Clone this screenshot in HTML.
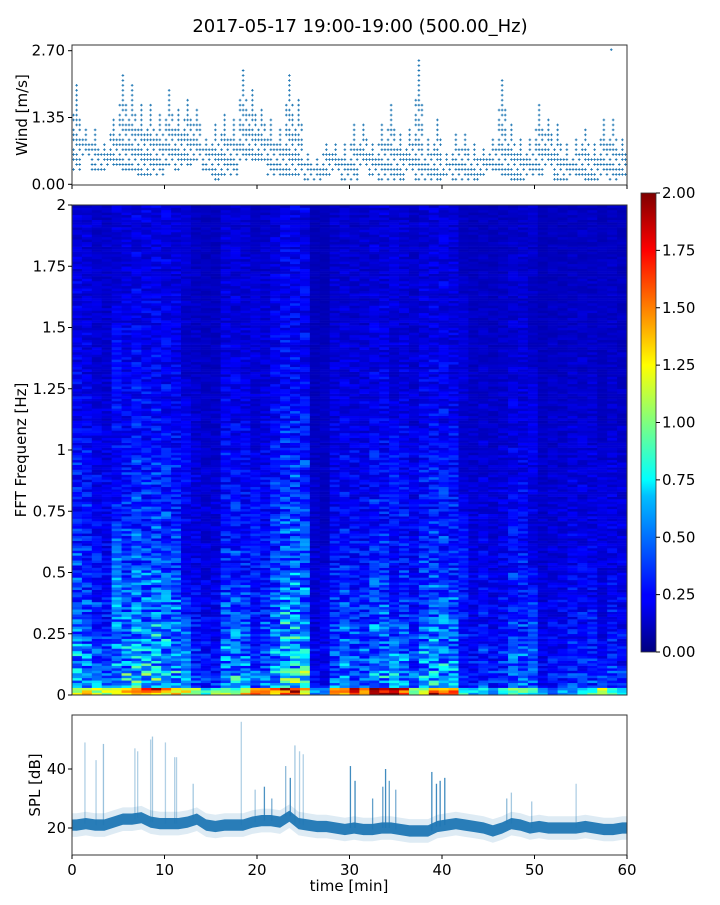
<!DOCTYPE html>
<html><head><meta charset="utf-8">
<style>
html,body{margin:0;padding:0;background:#fff}
svg text{font-family:"DejaVu Sans","Liberation Sans",sans-serif;fill:#000}
</style></head>
<body>
<svg id="fig" width="720" height="900" viewBox="0 0 720 900" xmlns="http://www.w3.org/2000/svg">
<defs>
<linearGradient id="jet" x1="0" y1="1" x2="0" y2="0">
<stop offset="0" stop-color="#00007f"/><stop offset="0.11" stop-color="#0000ff"/><stop offset="0.125" stop-color="#0000ff"/>
<stop offset="0.34" stop-color="#00bfff"/><stop offset="0.375" stop-color="#00ffff"/><stop offset="0.5" stop-color="#7fff7f"/>
<stop offset="0.625" stop-color="#ffff00"/><stop offset="0.66" stop-color="#ffdb00"/><stop offset="0.875" stop-color="#ff0000"/><stop offset="1" stop-color="#7f0000"/>
</linearGradient>
<clipPath id="clipSpl"><rect x="72" y="715" width="555" height="140"/></clipPath>
</defs>
<text x="360" y="32" text-anchor="middle" font-size="18">2017-05-17 19:00-19:00 (500.00_Hz)</text>
<g id="wind"></g>
<g id="spec"></g>
<g id="cbar"></g>
<g id="spl"></g>
</svg>
<script>
// ---- data ----
const windLo=[0.3,0.55,0.3,0.3,0.35,0.3,0.3,0.2,0.2,0.2,0.4,0.3,0.4,0.5,0.3,0.1,0.2,0.2,0.5,0.5,0.5,0.2,0.2,0.2,0.2,0.1,0.1,0.2,0.3,0.1,0.1,0.35,0.2,0.1,0.1,0.1,0.3,0.1,0.1,0.1,0.2,0.1,0.1,0.1,0.2,0.3,0.2,0.1,0.1,0.2,0.2,0.4,0.1,0.1,0.2,0.1,0.1,0.2,0.1,0.2];
const windHi=[2.0,1.1,1.1,0.75,1.3,2.2,2.0,1.6,1.6,1.35,1.9,1.5,1.7,1.5,0.9,1.2,1.4,1.3,2.3,1.9,1.5,1.3,1.1,2.2,1.7,0.6,0.45,0.75,0.75,0.75,1.2,1.2,0.75,1.2,1.6,1.0,1.1,2.5,0.9,1.3,0.55,1.0,1.0,0.75,0.7,0.9,2.1,1.2,0.9,0.9,1.6,1.3,1.2,0.75,0.9,1.1,0.75,1.3,1.3,0.9];
const windOutT=[58.3];
const windOutV=[2.72];
const windTicks=["0.00","1.35","2.70"];
const colLevel=[0.5,0.45,0.35,0.3,0.55,0.5,0.6,0.55,0.6,0.55,0.5,0.35,0.25,0.2,0.2,0.45,0.45,0.4,0.35,0.35,0.5,0.65,0.65,0.6,0.15,0.15,0.35,0.4,0.35,0.35,0.45,0.45,0.4,0.4,0.3,0.45,0.5,0.5,0.45,0.3,0.2,0.25,0.2,0.25,0.35,0.35,0.3,0.15,0.2,0.2,0.25,0.25,0.25,0.2,0.25,0.2];
const bottomBand=[1.4,1.4,1.2,1.3,1.5,1.6,1.8,1.6,1.7,1.5,1.4,1.3,1.2,0.8,1.0,1.2,1.1,1.4,1.5,1.6,1.5,1.9,1.8,1.5,0.6,0.6,1.7,1.8,1.9,1.8,2.0,2.0,2.0,1.7,1.0,1.3,1.8,1.8,1.6,0.9,0.7,0.8,0.6,0.9,1.1,1.0,0.9,0.6,0.5,0.6,0.6,0.7,1.0,1.2,0.9,0.7];
const freqProfile=[1.8,1.5,1.3,1.15,1.0,0.9,0.8,0.75,0.7,0.65,0.58,0.52,0.48,0.45,0.42,0.4,0.38,0.36,0.34,0.33];
const texture=[1.0,0.5,1.5,0.8,1.2,0.4,1.7,0.7,1.3,0.95,0.55,1.4,0.85,1.6,0.45,1.1,0.75,1.25,0.6,1.5,1.0,0.8,1.35,0.65,1.15,0.5,1.8,0.9,1.05,0.6,1.3,0.7,1.0,0.45,1.2,0.85,1.45];
const freqTicks=["0","0.25","0.5","0.75","1","1.25","1.5","1.75","2"];
const cbarTicks=["0.00","0.25","0.50","0.75","1.00","1.25","1.50","1.75","2.00"];
const splBase=[21,21.5,21,21,22,23,23,23.5,22,21.5,21.5,21.5,22,23,21,20.5,21,21,21,22,22.5,22.5,22,24,21.5,21,20.5,20.5,20,19.5,20,19.5,19.5,20,20,19.5,19,19,19,20.5,21,21.5,21,20.5,20,19,20,21.5,21,20,20.5,20,20,20,20,20.5,20,19.5,19.5,20];
const spikeT=[1.4,2.6,3.4,6.8,7.1,8.5,8.7,10.1,11.1,11.3,13.1,18.3,19.8,20.8,21.6,23.1,23.6,24.1,24.6,25.0,30.1,30.6,32.5,33.6,33.9,34.3,35.0,38.9,39.4,39.8,40.3,47.0,47.5,49.7,54.5];
const spikeV=[49,43,48.5,47,46,50,51,49,44,44,35,56,33,34,30,41,37,48,46,45,41,36,30,34,40,36,33,39,35,36,37,30,32,29,35];
const spikeA=[0.35,0.35,0.45,0.35,0.35,0.35,0.4,0.35,0.35,0.35,0.4,0.35,0.4,0.8,0.6,0.5,0.85,0.4,0.35,0.35,0.85,0.85,0.7,0.7,0.85,0.7,0.6,0.85,0.85,0.85,0.85,0.5,0.4,0.4,0.35];
const timeTicks=[0,10,20,30,40,50,60];
const splTicks=[20,40];

// ---- helpers ----
const NS="http://www.w3.org/2000/svg";
function mk(tag,attrs,parent){const e=document.createElementNS(NS,tag);for(const k in attrs)e.setAttribute(k,attrs[k]);parent.appendChild(e);return e;}
const X0=72,X1=627;
const xT=t=>X0+(X1-X0)*t/60;
function jet(v){let t=Math.max(0,Math.min(1,v/2));
 const c=x=>Math.round(255*Math.max(0,Math.min(1,x)));
 return `rgb(${c(1.5-Math.abs(4*t-3))},${c(1.5-Math.abs(4*t-2))},${c(1.5-Math.abs(4*t-1))})`;}

// ---- wind panel ----
const W=document.getElementById('wind');
const wTop=45,wBot=185;
const yW=v=>184.3-v*(184.3-50.7)/2.7;
for(let m=0;m<60;m++){
 const lo=windLo[m],hi=windHi[m];
 const n0=Math.round(lo*10),n1=Math.round(hi*10);
 const span=n1-n0;
 for(let s=0;s<3;s++){
  const t=m+(s+0.5)/3;
  for(let k=n0;k<=n1;k++){
   const upper=(k-n0)>0.7*span;
   if(upper && s!==1) continue;
   if(!upper && (k+s+m)%4===0) continue;
   const x=xT(t),y=yW(k/10);
   const p=mk('path',{d:`M${x-1.3},${y}h2.6M${x},${y-1.3}v2.6`,stroke:'#1f77b4','stroke-width':0.9},W);
   
   
  }
 }
}
windOutT.forEach((t,i)=>{const x=xT(t),y=yW(windOutV[i]);
 const p=mk('path',{d:`M${x-1.3},${y}h2.6M${x},${y-1.3}v2.6`,stroke:'#1f77b4','stroke-width':0.9},W);
 
 });
{const r=mk('rect',{x:X0,y:wTop,width:X1-X0,height:wBot-wTop,fill:'none',stroke:'#333','stroke-width':1},W);
 
 }
windTicks.forEach(s=>{const y=yW(parseFloat(s));
 mk('line',{x1:X0-4,x2:X0,y1:y,y2:y,stroke:'#000'},W);
 const t=mk('text',{x:X0-7,y:y+5,'text-anchor':'end','font-size':15},W);t.textContent=s;
 
 });
timeTicks.forEach(v=>{const x=xT(v);mk('line',{x1:x,x2:x,y1:wBot,y2:wBot+4,stroke:'#000'},W);});
{const t=mk('text',{transform:'translate(27,115) rotate(-90)','text-anchor':'middle','font-size':15},W);t.textContent='Wind [m/s]';
 
 }

// ---- spectrogram ----
const S=document.getElementById('spec');
const sTop=205,sBot=695;
const yF=f=>sBot-(sBot-sTop)*f/2;
const nRows=200, nCols=colLevel.length;
const cw=(X1-X0)/nCols, rh=(sBot-sTop)/nRows;
for(let c=0;c<nCols;c++){
 for(let r=0;r<nRows;r++){
  const f=(r+0.5)*2/nRows;
  const jt=texture[(r*5+c*11+(r*c)%7)%texture.length];
  let v;
  if(f<0.03) v=bottomBand[c]*(0.6+0.3*jt);
  else v=0.08+colLevel[c]*freqProfile[Math.min(19,Math.floor(f*10))]*0.6*jt;
  const rc=mk('rect',{x:(X0+c*cw).toFixed(2),y:(sBot-(r+1)*rh).toFixed(2),width:(cw+0.4).toFixed(2),height:(rh+0.3).toFixed(2),fill:jet(v)},S);
  
  
 }
}
{const r=mk('rect',{x:X0,y:sTop,width:X1-X0,height:sBot-sTop,fill:'none',stroke:'#333','stroke-width':1},S);
 
 }
freqTicks.forEach(s=>{const y=yF(parseFloat(s));
 mk('line',{x1:X0-4,x2:X0,y1:y,y2:y,stroke:'#000'},S);
 const t=mk('text',{x:X0-6,y:y+5,'text-anchor':'end','font-size':15},S);t.textContent=s;
 
 });
{const t=mk('text',{transform:'translate(26,450) rotate(-90)','text-anchor':'middle','font-size':15},S);t.textContent='FFT Frequenz [Hz]';
 
 }

// ---- colorbar ----
const C=document.getElementById('cbar');
const cTop=193,cBot=652;
{const r=mk('rect',{x:641,y:cTop,width:15,height:cBot-cTop,fill:'url(#jet)',stroke:'#333','stroke-width':0.8},C);
 
 }
cbarTicks.forEach(s=>{const y=cBot-(cBot-cTop)*parseFloat(s)/2;
 mk('line',{x1:656,x2:660,y1:y,y2:y,stroke:'#000'},C);
 const t=mk('text',{x:662,y:y+5,'font-size':15},C);t.textContent=s;
 
 });

// ---- SPL panel ----
const P=document.getElementById('spl');
const pTop=715,pBot=855;
const yS=v=>828-(v-20)*(828-769)/20;
const g=mk('g',{'clip-path':'url(#clipSpl)'},P);
function band(w,op,name){
 let up=[],dn=[];
 for(let m=0;m<60;m++){up.push(`${xT(m+0.5).toFixed(1)},${yS(splBase[m]+w).toFixed(1)}`);dn.unshift(`${xT(m+0.5).toFixed(1)},${yS(splBase[m]-w).toFixed(1)}`);}
 up.unshift(`${X0},${yS(splBase[0]+w)}`);up.push(`${X1},${yS(splBase[59]+w)}`);
 dn.unshift(`${X1},${yS(splBase[59]-w)}`);dn.push(`${X0},${yS(splBase[0]-w)}`);
 const p=mk('polygon',{points:up.concat(dn).join(' '),fill:'#1f77b4','fill-opacity':op},g);
 
 
}
band(4,0.15,'spl-band-outer');
band(1.9,0.95,'spl-band-inner');
spikeT.forEach((t,i)=>{const x=xT(t);
 const l=mk('line',{x1:x,x2:x,y1:yS(splBase[Math.min(59,Math.floor(t))]),y2:yS(spikeV[i]),stroke:'#1f77b4','stroke-opacity':spikeA[i],'stroke-width':1.3},g);
 
 });
{const r=mk('rect',{x:X0,y:pTop,width:X1-X0,height:pBot-pTop,fill:'none',stroke:'#333','stroke-width':1},P);
 
 }
splTicks.forEach(v=>{const y=yS(v);
 mk('line',{x1:X0-4,x2:X0,y1:y,y2:y,stroke:'#000'},P);
 const t=mk('text',{x:X0-6,y:y+5,'text-anchor':'end','font-size':15},P);t.textContent=v;
 
 });
timeTicks.forEach(v=>{const x=xT(v);
 mk('line',{x1:x,x2:x,y1:pBot,y2:pBot+4,stroke:'#000'},P);
 const t=mk('text',{x:x,y:pBot+20,'text-anchor':'middle','font-size':15},P);t.textContent=v;
 
 });
{const t=mk('text',{transform:'translate(40,785) rotate(-90)','text-anchor':'middle','font-size':15},P);t.textContent='SPL [dB]';
 
 }
{const t=mk('text',{x:349,y:891,'text-anchor':'middle','font-size':15},P);t.textContent='time [min]';
 
 }
</script>
</body></html>
